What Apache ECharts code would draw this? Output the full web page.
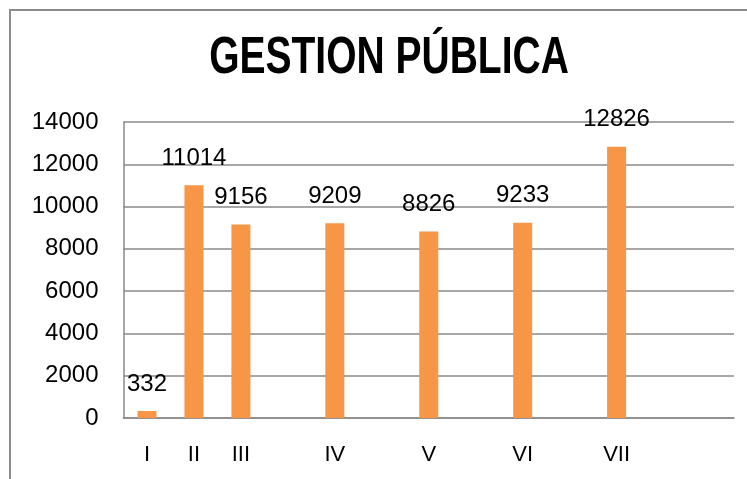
<!DOCTYPE html>
<html>
<head>
<meta charset="utf-8">
<script src="https://cdn.jsdelivr.net/npm/echarts@6/dist/echarts.min.js"></script>
<style>
  html, body { margin: 0; padding: 0; background: #fff; }
  #main { width: 747px; height: 479px; }
</style>
</head>
<body>
<div id="main"></div>
<script>
// categorias (las vacias dejan el hueco entre barras)
var categories = ['I', 'II', 'III', '', 'IV', '', 'V', '', 'VI', '', 'VII', '', ''];
var values = [332, 11014, 9156, null, 9209, null, 8826, null, 9233, null, 12826, null, null];
var yTicks = [0, 2000, 4000, 6000, 8000, 10000, 12000, 14000];
var titulo = 'GESTION PÚBLICA';

var chart = echarts.init(document.getElementById('main'), null, { renderer: 'canvas' });

var option = {
  animation: false,
  backgroundColor: '#fff',
  graphic: [{
    type: 'rect',
    shape: { x: 10, y: 10, width: 760, height: 500 },
    style: { fill: 'none', stroke: '#8c8c8c', lineWidth: 2 },
    silent: true
  }, {
    // titulo angosto, tipo Calibri
    type: 'text',
    x: 389,
    y: 59,
    scaleX: 0.75,
    silent: true,
    style: {
      text: titulo,
      textAlign: 'center',
      textVerticalAlign: 'middle',
      fontFamily: 'Liberation Sans',
      fontWeight: 'bold',
      fontSize: 52,
      fill: '#000'
    }
  }],
  grid: {
    left: 123.5,
    right: 13,
    top: 122,
    bottom: 61
  },
  xAxis: {
    type: 'category',
    data: categories,
    axisTick: { show: false },
    axisLine: { lineStyle: { color: '#8a8a8a', width: 1.5 } },
    axisLabel: {
      interval: 0,
      color: '#000',
      fontSize: 22,
      fontFamily: 'Liberation Sans',
      margin: 26
    }
  },
  yAxis: {
    type: 'value',
    min: yTicks[0],
    max: yTicks[yTicks.length - 1],
    interval: 2000,
    axisLine: { show: true, lineStyle: { color: '#8a8a8a', width: 1.5 } },
    axisTick: { show: false },
    splitLine: { lineStyle: { color: '#8a8a8a', width: 1.5 } },
    axisLabel: {
      color: '#000',
      fontSize: 24,
      fontFamily: 'Liberation Sans',
      margin: 25,
      formatter: function (v) { return String(v); }
    }
  },
  series: [{
    type: 'bar',
    data: values,
    barWidth: 19,
    itemStyle: { color: '#F79646' },
    label: {
      show: true,
      position: 'top',
      distance: 15,
      color: '#000',
      fontSize: 24,
      fontFamily: 'Liberation Sans'
    }
  }]
};

chart.setOption(option);
</script>
</body>
</html>
